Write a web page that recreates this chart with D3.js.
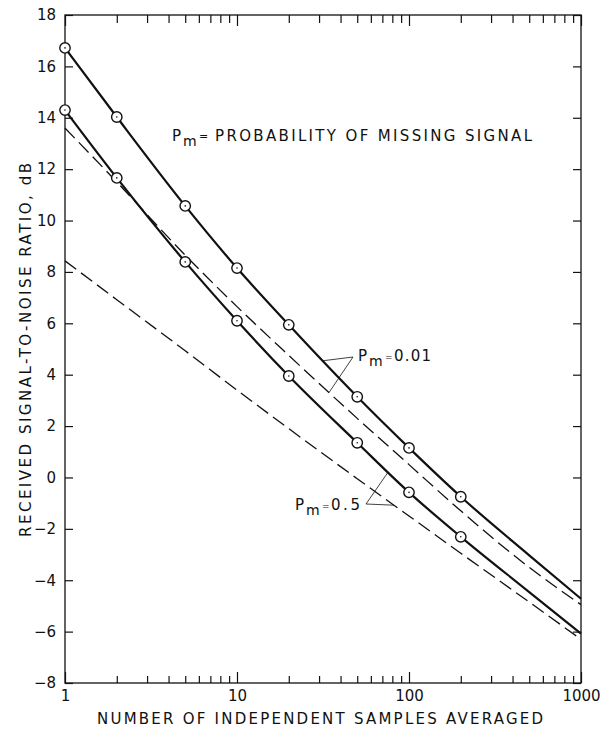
<!DOCTYPE html>
<html>
<head>
<meta charset="utf-8">
<script src="https://cdn.jsdelivr.net/npm/d3@7"></script>
<style>
html,body{margin:0;padding:0;background:#fff;}
svg{display:block;}
text{font-family:"DejaVu Sans",sans-serif;fill:#111;}
</style>
</head>
<body>
<svg id="chart" width="611" height="732"></svg>
<script>
// ---- data ----
const samples = [1, 2, 5, 10, 20, 50, 100, 200];
const pm001Measured = [16.72, 14.03, 10.57, 8.15, 5.94, 3.14, 1.15, -0.75];
const pm05Measured  = [14.30, 11.66, 8.39, 6.10, 3.95, 1.35, -0.58, -2.31];

const curveN = [1, 2, 5, 10, 20, 50, 100, 200, 500, 1000];
const pm001Curve  = [16.72, 14.03, 10.57, 8.15, 5.94, 3.14, 1.15, -0.75, -3.03, -4.72];
const pm05Curve   = [14.30, 11.66, 8.39, 6.10, 3.95, 1.35, -0.58, -2.31, -4.46, -6.08];
const pm001Dashed = [13.60, 11.50, 8.65, 6.65, 4.75, 2.30, 0.50, -1.30, -3.50, -4.95];
const pm05Dashed  = [8.43, 6.92, 4.93, 3.40, 1.90, -0.05, -1.50, -2.95, -4.85, -6.30];

const yTicks = [-8, -6, -4, -2, 0, 2, 4, 6, 8, 10, 12, 14, 16, 18];
const xMajor = [1, 10, 100, 1000];
const xMinor = [2,3,4,5,6,7,8,9,20,30,40,50,60,70,80,90,200,300,400,500,600,700,800,900];

const xTitle = "NUMBER OF INDEPENDENT SAMPLES AVERAGED";
const yTitle = "RECEIVED SIGNAL-TO-NOISE RATIO, dB";
const legendText = "PROBABILITY OF MISSING SIGNAL";
const label001 = "0.01";
const label05 = "0.5";

// ---- layout ----
const L = 65, R = 581, T = 15, B = 683;
const svg = d3.select("#chart");
const x = d3.scaleLog().domain([1, 1000]).range([L, R]);
const y = d3.scaleLinear().domain([-8, 18]).range([B, T]);

// frame
svg.append("rect").attr("x", L).attr("y", T).attr("width", R - L).attr("height", B - T)
  .attr("fill", "none").attr("stroke", "#111").attr("stroke-width", 1.3);

function styleAxis(g) {
  g.select(".domain").remove();
  g.selectAll(".tick line").attr("stroke", "#111").attr("stroke-width", 1.2);
  g.selectAll(".tick text").attr("font-family", "DejaVu Sans").attr("font-size", 15).attr("fill", "#111");
}

// y axes
svg.append("g").attr("transform", `translate(${L},0)`)
  .call(d3.axisLeft(y).tickValues(yTicks).tickSize(-8).tickSizeOuter(0).tickPadding(9).tickFormat(d3.format("d")))
  .call(styleAxis);
svg.append("g").attr("transform", `translate(${R},0)`)
  .call(d3.axisRight(y).tickValues(yTicks).tickSize(-8).tickSizeOuter(0).tickFormat(""))
  .call(styleAxis);

// x axes
svg.append("g").attr("transform", `translate(0,${B})`)
  .call(d3.axisBottom(x).tickValues(xMajor).tickSize(-11).tickSizeOuter(0).tickPadding(7).tickFormat(d3.format("d")))
  .call(styleAxis);
svg.append("g").attr("transform", `translate(0,${B})`)
  .call(d3.axisBottom(x).tickValues(xMinor).tickSize(-7).tickSizeOuter(0).tickFormat(""))
  .call(styleAxis);
svg.append("g").attr("transform", `translate(0,${T})`)
  .call(d3.axisTop(x).tickValues(xMajor).tickSize(-11).tickSizeOuter(0).tickFormat(""))
  .call(styleAxis);
svg.append("g").attr("transform", `translate(0,${T})`)
  .call(d3.axisTop(x).tickValues(xMinor).tickSize(-8).tickSizeOuter(0).tickFormat(""))
  .call(styleAxis);

// axis titles
svg.append("text").attr("x", 97).attr("y", 724).attr("font-size", 15)
  .attr("textLength", 446).attr("lengthAdjust", "spacing").text(xTitle);
svg.append("text").attr("transform", "translate(31,537) rotate(-90)").attr("font-size", 15)
  .attr("textLength", 374).attr("lengthAdjust", "spacing").text(yTitle);

// curves
const zip = (ns, vs) => ns.map((n, i) => ({ n, v: vs[i] }));
const line = d3.line().x(d => x(d.n)).y(d => y(d.v)).curve(d3.curveMonotoneX);

[pm001Dashed, pm05Dashed].forEach(vs => {
  svg.append("path").datum(zip(curveN, vs)).attr("d", line)
    .attr("fill", "none").attr("stroke", "#111").attr("stroke-width", 1.3)
    .attr("stroke-dasharray", "14,6");
});
[pm001Curve, pm05Curve].forEach(vs => {
  svg.append("path").datum(zip(curveN, vs)).attr("d", line)
    .attr("fill", "none").attr("stroke", "#111").attr("stroke-width", 2.2);
});

// markers
[pm001Measured, pm05Measured].forEach(vs => {
  const g = svg.append("g");
  g.selectAll("circle.m").data(zip(samples, vs)).join("circle")
    .attr("cx", d => x(d.n)).attr("cy", d => y(d.v)).attr("r", 5.2)
    .attr("fill", "#fff").attr("stroke", "#111").attr("stroke-width", 1.4);
  g.selectAll("circle.c").data(zip(samples, vs)).join("circle")
    .attr("cx", d => x(d.n)).attr("cy", d => y(d.v)).attr("r", 0.8).attr("fill", "#111");
});

// helper: interpolate value on a curve in log space
function valAt(ns, vs, n) {
  const ln = Math.log10(n);
  for (let i = 0; i < ns.length - 1; i++) {
    const a = Math.log10(ns[i]), b = Math.log10(ns[i + 1]);
    if (ln >= a && ln <= b) return vs[i] + (vs[i + 1] - vs[i]) * (ln - a) / (b - a);
  }
  return vs[vs.length - 1];
}

// Pm label helper
function pmLabel(px, py, rest, restLen, eqGap, eqSize) {
  svg.append("text").attr("x", px).attr("y", py).attr("font-size", 15).text("P");
  svg.append("text").attr("x", px + 11).attr("y", py + 5).attr("font-size", 14).text("m");
  svg.append("text").attr("x", px + 27).attr("y", py - 1).attr("font-size", eqSize).text("=");
  const t = svg.append("text").attr("x", px + 27 + eqGap).attr("y", py).attr("font-size", 15).text(rest);
  if (restLen) t.attr("textLength", restLen).attr("lengthAdjust", "spacing");
}

// legend header
pmLabel(172, 141, legendText, 317, 16, 11);

// Pm=0.01 label and leaders
pmLabel(358, 361, label001, 37, 9, 9);
const o1 = [353, 357];
[[31.6, pm001Curve], [34.3, pm001Dashed]].forEach(([n, vs]) => {
  svg.append("line").attr("x1", o1[0]).attr("y1", o1[1])
    .attr("x2", x(n)).attr("y2", y(valAt(curveN, vs, n)))
    .attr("stroke", "#111").attr("stroke-width", 0.8);
});

// Pm=0.5 label and leaders
pmLabel(295, 510, label05, 29, 9, 9);
const o2 = [366, 504];
[[75.5, pm05Curve], [81.8, pm05Dashed]].forEach(([n, vs]) => {
  svg.append("line").attr("x1", o2[0]).attr("y1", o2[1])
    .attr("x2", x(n)).attr("y2", y(valAt(curveN, vs, n)))
    .attr("stroke", "#111").attr("stroke-width", 0.8);
});
</script>
</body>
</html>
